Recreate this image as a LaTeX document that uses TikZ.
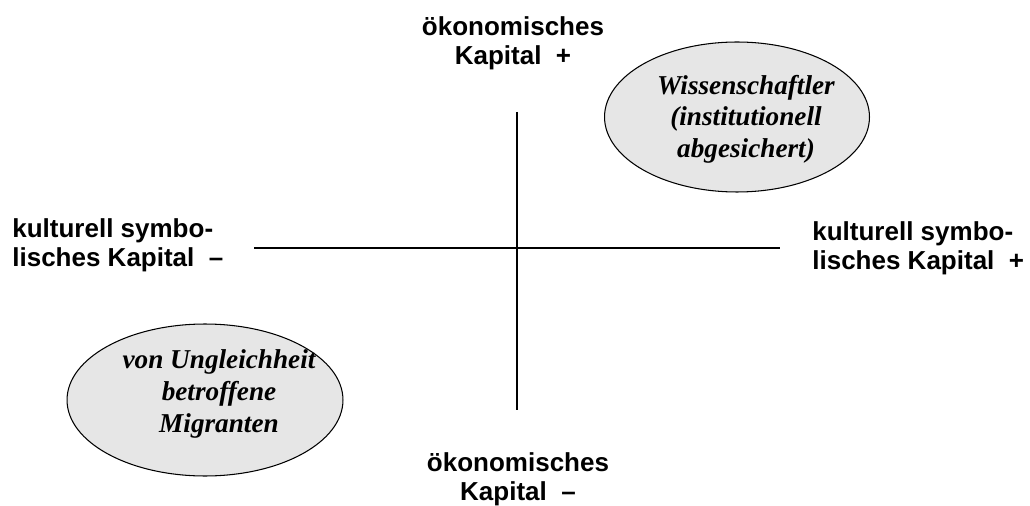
\documentclass[tikz,border=0pt]{standalone}
\usepackage{fontspec}
\setmainfont{Liberation Serif}
\setsansfont{Liberation Sans}
\usepackage{tikz}
\usetikzlibrary{positioning}
\usetikzlibrary{shapes.geometric}
\definecolor{groupfill}{HTML}{E6E6E6}
\tikzset{
  axis_label/.style = {inner sep=0pt, font=\sffamily\bfseries\fontsize{14.8}{16.5}\selectfont},
  group_shape/.style = {ellipse, draw=black, fill=groupfill, line width=0.6pt, inner sep=0pt},
  group_text/.style = {inner sep=0pt, align=center,
    font=\rmfamily\bfseries\itshape\fontsize{15.5}{18}\selectfont},
  axis_line/.style = {line width=1.1pt}
}
\begin{document}
\begin{tikzpicture}[x=0.02cm, y=-0.02cm]
  \useasboundingbox (0,0) rectangle (1030,506);
  % axes
  \coordinate (top) at (517,112);
  \coordinate (bottom) at (517,410);
  \coordinate (left) at (254,248);
  \coordinate (right) at (780,248);
  \draw [axis_line] (top) -- (bottom);
  \draw [axis_line] (left) -- (right);
  % labels
  \node [axis_label, align=center, anchor=north] (oek_plus) at (513,16) {ökonomisches\\Kapital~~+};
  \node [axis_label, align=center, anchor=north] (oek_minus) at (518,452) {ökonomisches\\Kapital~~–};
  \node [axis_label, align=left, anchor=north west] (kult_minus) at (12,218) {kulturell symbo-\\lisches Kapital~~–};
  \node [axis_label, align=left, anchor=north west] (kult_plus) at (812,221) {kulturell symbo-\\lisches Kapital~~+};
  % groups
  \node [group_shape, minimum width=5.3cm, minimum height=3cm] (wiss_shape) at (737,117) {};
  \node [group_text] (wiss) at (746,119) {Wissenschaftler\\(institutionell\\abgesichert)};
  \node [group_shape, minimum width=5.52cm, minimum height=3.04cm] (migr_shape) at (205,400) {};
  \node [group_text] (migr) at (219,394) {von Ungleichheit\\betroffene\\Migranten};
\end{tikzpicture}
\end{document}
